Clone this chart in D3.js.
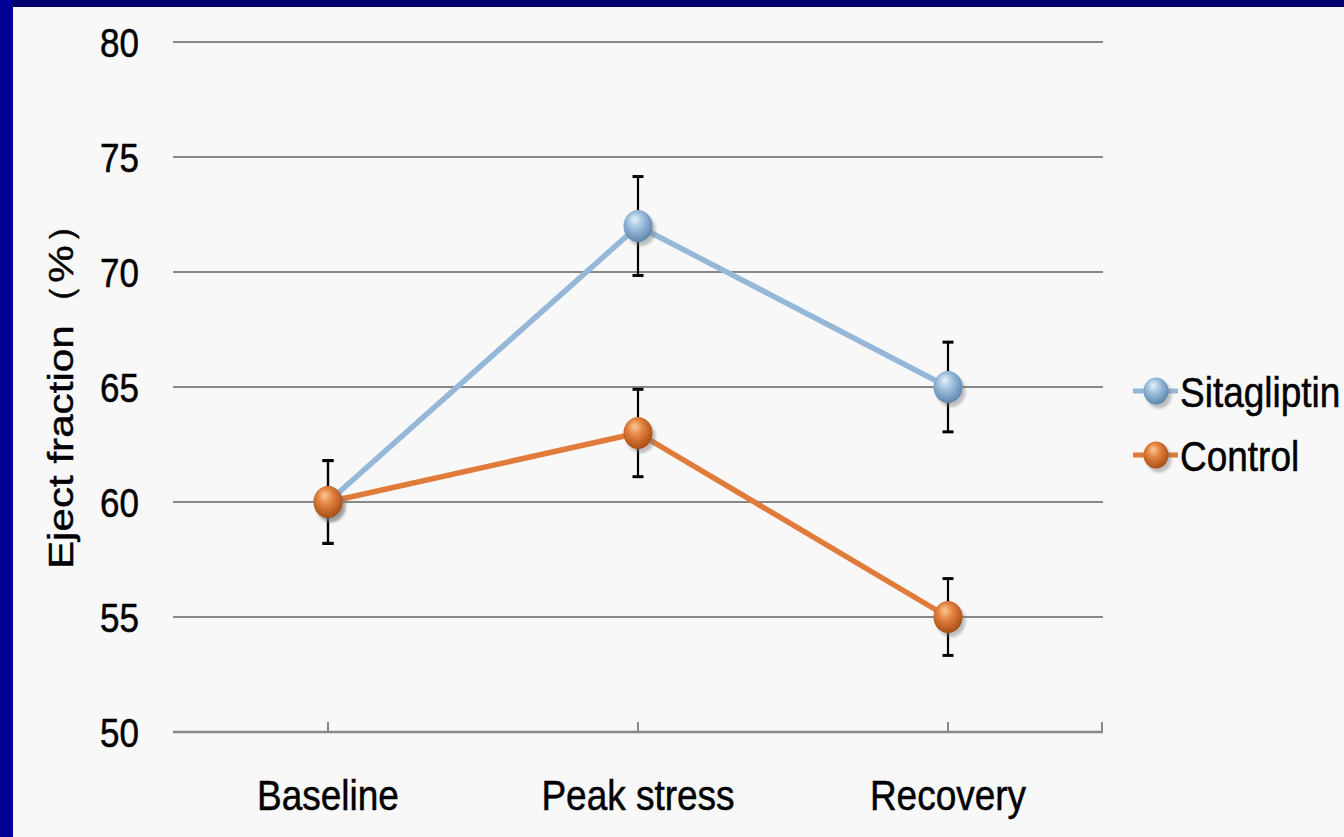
<!DOCTYPE html>
<html>
<head>
<meta charset="utf-8">
<script src="https://cdn.jsdelivr.net/npm/d3@7"></script>
<style>
  html, body { margin: 0; padding: 0; background: #f8f8f8; }
  svg { display: block; }
  text { font-family: "Liberation Sans", Arial, sans-serif; fill: #000; stroke: #000; stroke-width: 0.45px; }
</style>
</head>
<body>
<svg id="chart" width="1344" height="837"></svg>
<script>
// Ejection fraction by phase, mean ± error
const categories = ["Baseline", "Peak stress", "Recovery"];
const seriesNames = ["Sitagliptin", "Control"];
const sitagliptinValues = [60, 72, 65];
const sitagliptinErrors = [1.8, 2.15, 1.95];
const controlValues = [60, 63, 55];
const controlErrors = [1.8, 1.9, 1.67];
const yTicks = [50, 55, 60, 65, 70, 75, 80];
const yTitle = "Eject fraction（%）";

const series = [
  { name: seriesNames[0], values: sitagliptinValues, errors: sitagliptinErrors,
    line: "#95b8d9", hi: "#e4f0fa", mid: "#9dbfdd", edge: "#5f86ad" },
  { name: seriesNames[1], values: controlValues, errors: controlErrors,
    line: "#e07b3a", hi: "#fbc994", mid: "#e2803f", edge: "#a84e16" }
];

const W = 1344, H = 837;
const svg = d3.select("#chart");
const stretch = 1.17; // text is drawn taller than wide

// background and frame
svg.append("rect").attr("width", W).attr("height", H).attr("fill", "#f8f8f8");
svg.append("rect").attr("x", 0).attr("y", 0).attr("width", W).attr("height", 7).attr("fill", "#00006e");
svg.append("rect").attr("x", 0).attr("y", 0).attr("width", 13).attr("height", H).attr("fill", "#000094");

const x = d3.scaleBand().domain(categories).range([173, 1103]);
const y = d3.scaleLinear().domain([50, 80]).range([732, 42]);
const cx = c => x(c) + x.bandwidth() / 2;

// gradients for the sphere markers
const defs = svg.append("defs");
series.forEach((s, i) => {
  const g = defs.append("radialGradient").attr("id", "ball" + i)
    .attr("cx", "45%").attr("cy", "40%").attr("r", "60%").attr("fx", "38%").attr("fy", "28%");
  g.append("stop").attr("offset", "0%").attr("stop-color", s.hi);
  g.append("stop").attr("offset", "45%").attr("stop-color", s.mid);
  g.append("stop").attr("offset", "100%").attr("stop-color", s.edge);
});
const blur = defs.append("filter").attr("id", "shadow").attr("x", "-50%").attr("y", "-50%").attr("width", "200%").attr("height", "200%");
blur.append("feGaussianBlur").attr("stdDeviation", 1.5);

// horizontal grid lines
svg.append("g").selectAll("line").data(yTicks.filter(t => t > 50)).join("line")
  .attr("x1", 173).attr("x2", 1103)
  .attr("y1", d => y(d)).attr("y2", d => y(d))
  .attr("stroke", "#888").attr("stroke-width", 2);

// category axis line with upward ticks
svg.append("line").attr("x1", 173).attr("x2", 1103).attr("y1", y(50)).attr("y2", y(50))
  .attr("stroke", "#888").attr("stroke-width", 2.4);
const tickXs = categories.map(cx).concat([x.range()[1] - 1]);
svg.append("g").selectAll("line").data(tickXs).join("line")
  .attr("x1", d => d).attr("x2", d => d).attr("y1", y(50)).attr("y2", y(50) - 10)
  .attr("stroke", "#888").attr("stroke-width", 2);

// y tick labels
svg.append("g").selectAll("text").data(yTicks).join("text")
  .attr("transform", d => `translate(139,${y(d)}) scale(1,${stretch})`)
  .attr("text-anchor", "end").attr("dy", "0.36em")
  .style("font-size", "35px")
  .text(d => d);

// category labels
svg.append("g").selectAll("text").data(categories).join("text")
  .attr("transform", d => `translate(${cx(d)},810) scale(1,${stretch})`)
  .attr("text-anchor", "middle")
  .style("font-size", "37px")
  .text(d => d);

// y axis title
svg.append("text")
  .attr("transform", `translate(73,386) rotate(-90) scale(${stretch * 1.03},1)`)
  .attr("text-anchor", "middle")
  .style("font-size", "35px")
  .text(yTitle);

// error bars
series.forEach(s => {
  const g = svg.append("g");
  categories.forEach((c, j) => {
    const top = y(s.values[j] + s.errors[j]), bot = y(s.values[j] - s.errors[j]);
    g.append("line").attr("x1", cx(c)).attr("x2", cx(c)).attr("y1", top).attr("y2", bot)
      .attr("stroke", "#000").attr("stroke-width", 2.2);
    [top, bot].forEach(v => g.append("line")
      .attr("x1", cx(c) - 5.5).attr("x2", cx(c) + 5.5).attr("y1", v).attr("y2", v)
      .attr("stroke", "#000").attr("stroke-width", 3));
  });
});

// lines
const lineGen = d3.line().x((d, j) => cx(categories[j])).y(d => y(d));
series.forEach(s => {
  svg.append("path").attr("d", lineGen(s.values))
    .attr("fill", "none").attr("stroke", s.line).attr("stroke-width", 5.5)
    .attr("stroke-linejoin", "round");
});

// sphere markers
function ball(g, px, py, i, rx, ry) {
  g.append("ellipse").attr("cx", px + 3).attr("cy", py + 4).attr("rx", rx).attr("ry", ry)
    .attr("fill", "#777").attr("opacity", 0.45).attr("filter", "url(#shadow)");
  g.append("ellipse").attr("cx", px).attr("cy", py).attr("rx", rx).attr("ry", ry)
    .attr("fill", `url(#ball${i})`);
}
series.forEach((s, i) => {
  const g = svg.append("g");
  s.values.forEach((v, j) => ball(g, cx(categories[j]), y(v), i, 14.5, 16));
});

// legend
const legendY = [391, 455];
series.forEach((s, i) => {
  const g = svg.append("g");
  g.append("line").attr("x1", 1133).attr("x2", 1178).attr("y1", legendY[i]).attr("y2", legendY[i])
    .attr("stroke", s.line).attr("stroke-width", 5);
  ball(g, 1156, legendY[i], i, 12.5, 13.5);
  g.append("text")
    .attr("transform", `translate(1180,${legendY[i]}) scale(1,${stretch})`)
    .attr("dy", "0.36em")
    .style("font-size", "37px")
    .text(s.name);
});
</script>
</body>
</html>
